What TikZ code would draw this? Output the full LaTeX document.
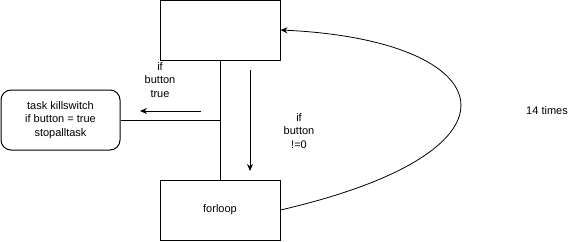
\documentclass[tikz,border=0pt]{standalone}
\usepackage{fontspec}
\setmainfont{Liberation Sans}
\usetikzlibrary{arrows.meta}
\begin{document}
\begin{tikzpicture}[x=1pt,y=-1pt,
  every node/.style={font=\fontsize{11}{13.5}\selectfont, inner sep=0pt},
  box/.style={draw, line width=1pt, minimum width=120pt, minimum height=60pt},
  roundbox/.style={draw, line width=1pt, rounded corners=10pt, minimum width=119pt, minimum height=60pt, align=center},
  conn/.style={line width=1pt},
  arr/.style={line width=1pt, -{Stealth[length=7pt,width=6pt]}},
  lbl/.style={align=center}]
  \useasboundingbox (0,0) rectangle (583,241);
  % process boxes
  \node[box] (top) at (220,30) {};
  \node[box] (loop) at (220,210) {forloop};
  \node[roundbox] (kill) at (60.5,120) {task killswitch\\if button = true\\stopalltask};
  % trunk between the two boxes and branch to the killswitch
  \draw[conn] (top.south) -- (loop.north);
  \coordinate (junction) at (220,120);
  \draw[conn] (kill.east) -- (junction);
  % direction hints
  \coordinate (a1s) at (201,111);
  \coordinate (a1e) at (140,111);
  \draw[arr] (a1s) -- (a1e);
  \node[lbl] (l1) at (160,80) {if\\button\\true};
  \coordinate (a2s) at (250,70);
  \coordinate (a2e) at (250,171);
  \draw[arr] (a2s) -- (a2e);
  \node[lbl] (l2) at (299,131) {if\\button\\!=0};
  % loop back
  \draw[arr, line width=0.8pt] (loop.east) .. controls (540,150) and (500,40) .. (top.east);
  \node (times) at (547,111) {14 times};
\end{tikzpicture}
\end{document}
